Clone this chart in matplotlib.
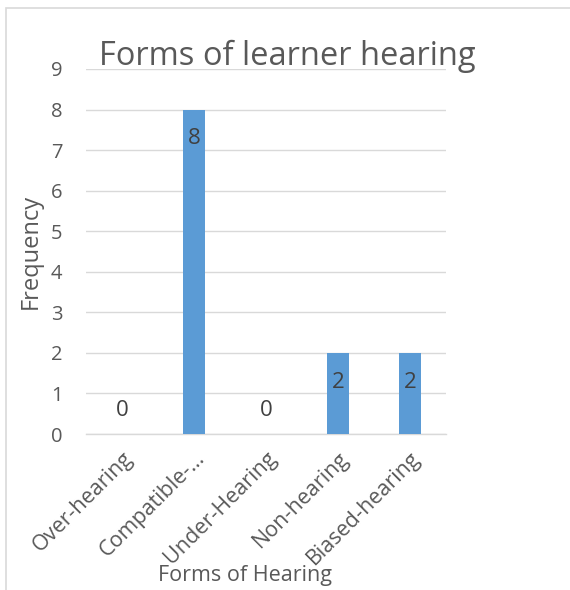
import matplotlib
matplotlib.use("Agg")
import matplotlib.pyplot as plt
from matplotlib.patches import Rectangle

categories = ["Over-hearing", "Compatible-…", "Under-Hearing", "Non-hearing", "Biased-hearing"]
frequency = [0, 8, 0, 2, 2]
y_ticks = list(range(0, 10))

BAR = "#5B9BD5"
GRID = "#D9D9D9"
TEXT = "#595959"
LABEL = "#404040"
FONT = "Open Sans"

plt.rcParams["font.family"] = [FONT, "DejaVu Sans"]

fig = plt.figure(figsize=(5.7, 5.9), dpi=100)
fig.patches.append(Rectangle((6 / 570, -0.1), 2, 1 - 8 / 590 + 0.1,
                             transform=fig.transFigure, fill=False,
                             edgecolor=GRID, linewidth=1.2))

ax = fig.add_axes([86 / 570, 156 / 590, 360 / 570, 365 / 590])
x = range(len(categories))
ax.bar(x, frequency, width=0.31, color=BAR, zorder=3)
ax.set_xlim(-0.5, len(categories) - 0.5)
ax.set_ylim(0, 9)
ax.set_yticks(y_ticks)
ax.yaxis.grid(True, color=GRID, linewidth=1, zorder=0)
for s in ["top", "right", "left"]:
    ax.spines[s].set_visible(False)
ax.spines["bottom"].set_color(GRID)
ax.spines["bottom"].set_linewidth(1)
ax.tick_params(axis="both", length=0, colors=TEXT, labelsize=14.5)
ax.tick_params(axis="y", pad=17)
ax.set_xticks(list(x))
ax.set_xticklabels(categories, rotation=45, ha="right", rotation_mode="anchor",
                   fontsize=15.5, color=TEXT)
ax.tick_params(axis="x", pad=10)

for xi, v in zip(x, frequency):
    offset = -21 if v > 0 else 17
    ax.annotate(str(v), (xi, v), xytext=(0, offset), textcoords="offset points",
                ha="center", va="center", fontsize=16, color=LABEL, zorder=4)

ax.set_ylabel("Frequency", fontsize=17, color=TEXT, labelpad=6)
fig.text(245 / 570, 1 - 576 / 590, "Forms of Hearing", ha="center", va="center",
         fontsize=15.5, color=TEXT)
fig.text(287 / 570, 1 - 56 / 590, "Forms of learner hearing", ha="center",
         va="center", fontsize=23.5, color=TEXT)

fig.savefig("out.png", dpi=100)
